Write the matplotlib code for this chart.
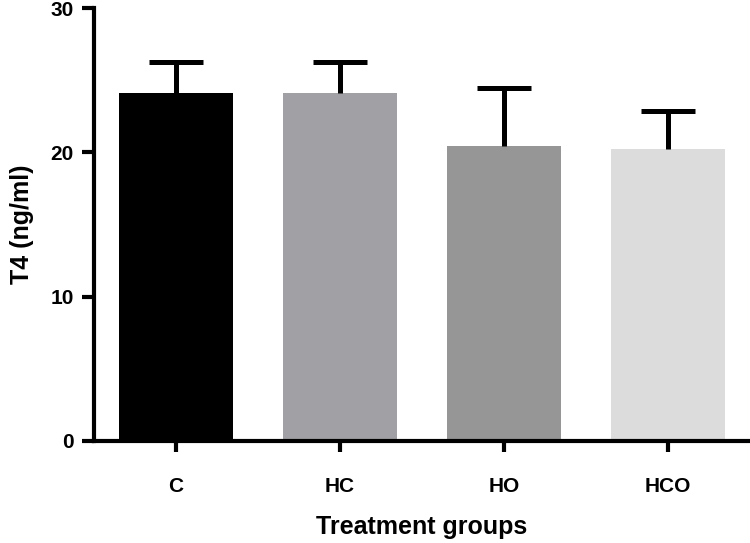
import matplotlib.pyplot as plt
import numpy as np

plt.rcParams['font.family'] = ['Liberation Sans', 'DejaVu Sans']
plt.rcParams['font.weight'] = 'bold'

groups = ['C', 'HC', 'HO', 'HCO']
means = [24.1, 24.1, 20.45, 20.25]
upper_err = [2.15, 2.15, 4.0, 2.65]
bar_colors = ['#000000', '#a1a0a5', '#969696', '#dcdcdc']

fig = plt.figure(figsize=(7.5, 5.43), dpi=100)
ax = fig.add_axes([0.1253, 0.188, 0.8747, 0.797])

x = np.arange(len(groups))
ax.bar(x, means, width=0.70, color=bar_colors, zorder=2)
# upper error bars only
_, caps, _ = ax.errorbar(x, means, yerr=[np.zeros(len(means)), upper_err], fmt='none',
                         ecolor='black', elinewidth=3.6, capsize=19.5, capthick=3.6, zorder=3)
caps[0].remove()

ax.set_xlim(-0.5, 3.5)
ax.set_ylim(0, 30)
ax.set_yticks([0, 10, 20, 30])
ax.set_xticks(x, groups)

for side in ['top', 'right']:
    ax.spines[side].set_visible(False)
for side in ['left', 'bottom']:
    ax.spines[side].set_linewidth(3)
ax.spines['left'].set_bounds(0, 30)

ax.tick_params(axis='y', length=8.5, width=3, labelsize=15, pad=6)
ax.tick_params(axis='x', length=8, width=3, labelsize=15, pad=18)
for lbl in ax.get_xticklabels() + ax.get_yticklabels():
    lbl.set_fontweight('bold')

ax.set_ylabel('T4 (ng/ml)', fontsize=18, fontweight='bold', labelpad=12)
ax.set_xlabel('Treatment groups', fontsize=18, fontweight='bold', labelpad=14)

fig.savefig('out.png', dpi=100)
